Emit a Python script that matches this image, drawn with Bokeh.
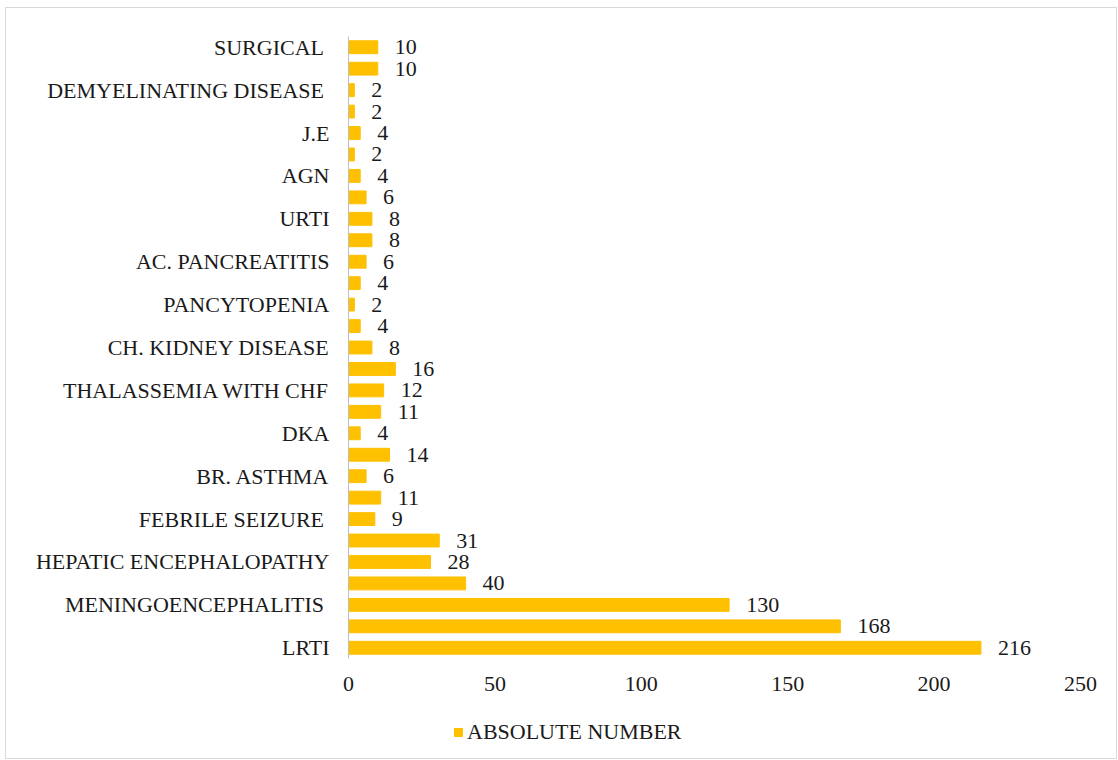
from bokeh.plotting import figure
from bokeh.layouts import column
from bokeh.models import ColumnDataSource, FixedTicker, Legend, LegendItem, LabelSet, Range1d
from bokeh.embed import file_html
from bokeh.resources import INLINE

# categories from bottom to top ("" = unlabeled category in the original)
categories = ["LRTI", "", "MENINGOENCEPHALITIS ", "", "HEPATIC ENCEPHALOPATHY", "",
              "FEBRILE  SEIZURE", "", "BR. ASTHMA", "", "DKA", "", "THALASSEMIA WITH CHF", "",
              "CH. KIDNEY DISEASE", "", "PANCYTOPENIA", "", "AC. PANCREATITIS", "",
              "URTI", "", "AGN", "", "J.E", "", "DEMYELINATING DISEASE ", "", "SURGICAL "]
values = [216, 168, 130, 40, 28, 31, 9, 11, 6, 14, 4, 11, 12, 16, 8, 4, 2, 4, 6, 8,
          8, 6, 4, 2, 4, 2, 2, 10, 10]
x_ticks = [0, 50, 100, 150, 200, 250]
series_name = "ABSOLUTE NUMBER"

pos = list(range(1, len(values) + 1))
src = ColumnDataSource(dict(y=pos, v=values, t=[str(v) for v in values]))

FONT = "Liberation Serif"
FS = "22px"
TXT = "#1a1a1a"
BAR = "#FFC000"

p = figure(width=1110, height=700, output_backend="svg", toolbar_location=None,
           x_range=(0, 250), y_range=(0.5, len(values) + 0.5),
           frame_width=732, frame_height=622,
           min_border_left=342, min_border_right=36, min_border_top=28, min_border_bottom=50)
p.outline_line_color = None
p.grid.grid_line_color = None

r = p.hbar(y="y", right="v", left=0, height=0.6, color=BAR, source=src)

labels = LabelSet(x="v", y="y", text="t", source=src, x_offset=17, text_baseline="middle",
                  text_font=FONT, text_font_size=FS, text_color=TXT)
p.add_layout(labels)

p.yaxis.ticker = FixedTicker(ticks=[i for i, c in zip(pos, categories) if c])
p.yaxis.major_label_overrides = {i: c for i, c in zip(pos, categories) if c}
p.yaxis.major_tick_line_color = None
p.yaxis.minor_tick_line_color = None
p.yaxis.axis_line_color = "#bfbfbf"
p.yaxis.major_label_standoff = 13
p.yaxis.major_label_text_font = FONT
p.yaxis.major_label_text_font_size = FS
p.yaxis.major_label_text_color = TXT

p.xaxis.ticker = FixedTicker(ticks=x_ticks)
p.xaxis.axis_line_color = None
p.xaxis.major_tick_line_color = None
p.xaxis.minor_tick_line_color = None
p.xaxis.major_label_standoff = 12
p.xaxis.major_label_text_font = FONT
p.xaxis.major_label_text_font_size = FS
p.xaxis.major_label_text_color = TXT

# separate strip below for the legend (its frame is aligned with the chart's frame)
q = figure(width=1110, height=50, output_backend="svg", toolbar_location=None,
           x_range=Range1d(0, 1), y_range=Range1d(0, 1),
           min_border=0)
q.axis.visible = False
q.grid.grid_line_color = None
q.outline_line_color = None
# legend swatch renderer: one bar placed far outside the strip's visible range
lr = q.hbar(y=[-50], right=[6], left=5, height=0.6, color=BAR)
legend = Legend(items=[LegendItem(label=series_name, renderers=[lr], index=0)],
                location=(105, 13), orientation="horizontal", border_line_color=None,
                background_fill_alpha=0,
                label_text_font=FONT, label_text_font_size=FS, label_text_color=TXT,
                glyph_width=10, glyph_height=10, label_standoff=4, margin=0, padding=0)
q.add_layout(legend, "center")

layout = column(p, q, spacing=0,
                styles={"border": "1px solid #d9d9d9", "margin-left": "5px", "margin-top": "7px"})

open("out.html", "w").write(file_html(layout, INLINE))
